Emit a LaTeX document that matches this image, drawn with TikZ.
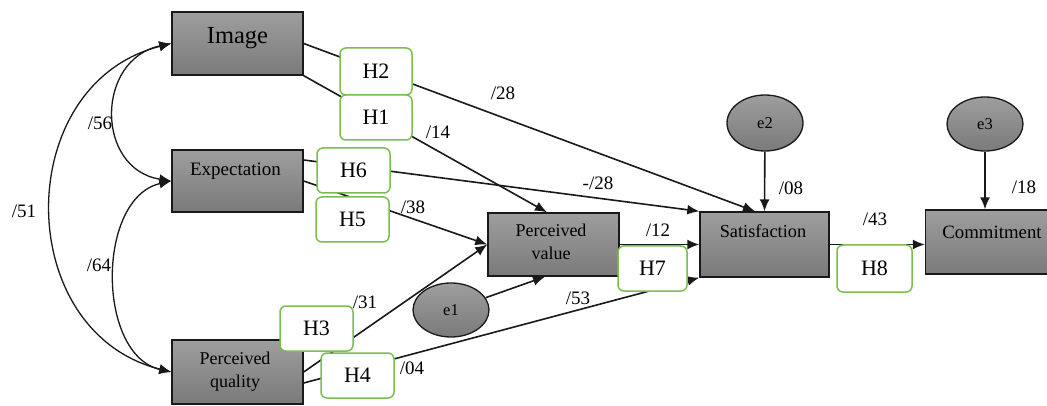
\documentclass[tikz,border=0pt]{standalone}
\usepackage{fontspec}
\setmainfont{Liberation Serif}
\usetikzlibrary{arrows.meta,shapes.geometric,calc}
\definecolor{hgreen}{RGB}{120,190,80}
\definecolor{boxtop}{RGB}{158,158,158}
\definecolor{boxbot}{RGB}{122,122,122}
\tikzset{
  latent/.style={draw=black!90, line width=1.4pt, top color=boxtop, bottom color=boxbot,
    minimum width=131pt, minimum height=63pt, inner sep=0pt},
  ltext/.style={anchor=base, inner sep=0pt},
  hbox/.style={draw=hgreen, line width=1.5pt, fill=white, rounded corners=6pt,
    minimum width=72pt, minimum height=45pt, inner sep=0pt, font=\fontsize{22}{26}\selectfont},
  err/.style={ellipse, draw=black!90, line width=1.3pt, top color=boxtop, bottom color=boxbot,
    minimum width=76pt, minimum height=54pt, inner sep=0pt, font=\fontsize{16.5}{20}\selectfont},
  conn/.style={line width=1.6pt, draw=black!90, -{Latex[length=12pt,width=10pt]}},
  corr/.style={line width=1.3pt, draw=black!90, {Latex[length=12pt,width=10pt]}-{Latex[length=12pt,width=10pt]}},
  coef/.style={font=\fontsize{19}{22}\selectfont, inner sep=0pt},
}
\begin{document}
\begin{tikzpicture}[x=1pt,y=-1pt]
\useasboundingbox (0,0) rectangle (1047,406);
\clip (0,0) rectangle (1047,406);

% latent boxes
\node[latent] (img) at (237.5,43.5) {};
\node[latent, minimum height=62pt] (exp) at (237.5,181) {};
\node[latent, minimum height=64pt] (pq) at (237.5,372) {};
\node[latent] (pv) at (553.5,244.5) {};
\node[latent, minimum width=129pt, minimum height=65pt] (sat) at (764.5,244.5) {};
\node[latent, minimum height=64pt] (com) at (991,242) {};

\node[ltext, font=\fontsize{24.5}{28}\selectfont] (imgt) at (237.5,44) {Image};
\node[ltext, font=\fontsize{19}{22}\selectfont] (expt) at (235.5,176) {Expectation};
\node[inner sep=0pt, align=center, font=\fontsize{18}{23}\selectfont] (pvt) at (551,242) {Perceived\\value};
\node[inner sep=0pt, align=center, font=\fontsize{18}{23}\selectfont] (pqt) at (235,372) {Perceived\\quality};
\node[ltext, font=\fontsize{18.3}{22}\selectfont] (satt) at (763,238) {Satisfaction};
\node[ltext, font=\fontsize{18.8}{22}\selectfont] (comt) at (992,239) {Commitment};

% error terms
\node[err] (e1) at (451,310) {e1};
\node[err, minimum height=56pt] (e2) at (765,123) {e2};
\node[err] (e3) at (985,124) {e3};

% correlations
\draw[corr] (img.west) .. controls +(-76,16) and +(-76,-12) .. (exp.west);
\draw[corr] (exp.west) .. controls +(-75,17) and +(-75,-17) .. (pq.west);
\draw[corr] (img.west) .. controls +(-160,40) and +(-160,-40) .. (pq.west);

% paths
\draw[conn] (img.east) -- ([xshift=-9.5pt]sat.north);
\draw[conn] (img.south east) -- ([xshift=-6.5pt]pv.north);
\draw[conn] ([yshift=21pt]exp.east) -- (sat.north west);
\draw[conn] (exp.east) -- (pv.west);
\draw[conn] (pq.east) -- (pv.west);
\draw[conn] ([yshift=-11pt]pq.east) -- (sat.south west);
\draw[conn] (pv.east) -- (sat.west);
\draw[conn] (sat.east) -- (sat.east -| com.west);
\draw[conn] (e1) -- ([xshift=-8.5pt]pv.south);
\draw[conn] (e2) -- (sat.north);
\draw[conn] (e3) -- ([xshift=-6pt]com.north);

% hypothesis boxes
\node[hbox, minimum height=47pt] (h2) at (376,71.5) {H2};
\node[hbox] (h1) at (376,117.5) {H1};
\node[hbox, minimum width=73pt] (h6) at (353.5,170.5) {H6};
\node[hbox, minimum width=73pt] (h5) at (352.5,219.5) {H5};
\node[hbox, minimum width=73pt] (h3) at (316.5,328.5) {H3};
\node[hbox, minimum width=73pt] (h4) at (357.5,375.5) {H4};
\node[hbox, minimum width=69pt] (h7) at (652.5,268.5) {H7};
\node[hbox, minimum width=75pt, minimum height=47pt] (h8) at (874.5,268.5) {H8};

% coefficients
\node[coef] (c28) at (503,93) {/28};
\node[coef] (c14) at (438,132) {/14};
\node[coef] (cm28) at (598,183) {-/28};
\node[coef] (c38) at (413,207) {/38};
\node[coef] (c31) at (365,302) {/31};
\node[coef] (c53) at (578,298) {/53};
\node[coef] (c04) at (412,368) {/04};
\node[coef] (c12) at (658,230) {/12};
\node[coef] (c43) at (875,219) {/43};
\node[coef] (c08) at (791,188) {/08};
\node[coef] (c18) at (1024,187) {/18};
\node[coef] (c56) at (100,123) {/56};
\node[coef] (c51) at (24,211) {/51};
\node[coef] (c64) at (99,265) {/64};
\end{tikzpicture}
\end{document}
